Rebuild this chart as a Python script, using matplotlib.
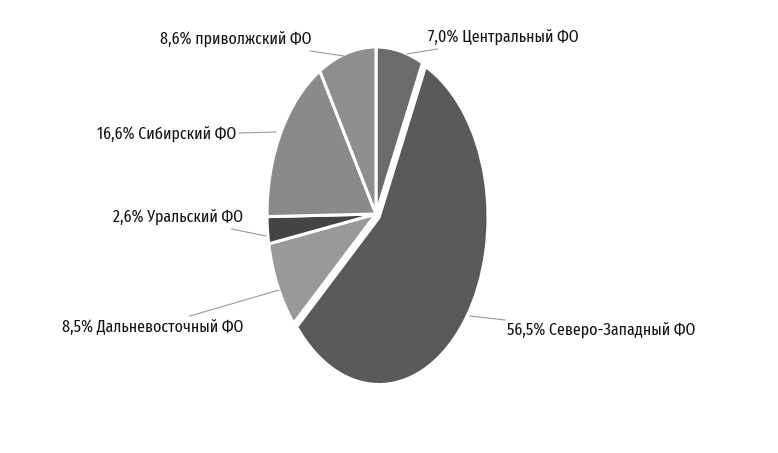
import matplotlib as mpl
mpl.use('Agg')
import matplotlib.pyplot as plt

# shares by federal district, clockwise from 12 o'clock
districts = ['Центральный ФО', 'Северо-Западный ФО', 'Дальневосточный ФО',
             'Уральский ФО', 'Сибирский ФО', 'приволжский ФО']
shares = [7.0, 56.5, 8.5, 2.6, 16.6, 8.6]
share_labels = ['7,0%', '56,5%', '8,5%', '2,6%', '16,6%', '8,6%']

colors = ['#6b6b6b', '#5a5a5a', '#999999', '#444444', '#8a8a8a', '#8e8e8e']
explode = [0, 0.035, 0, 0, 0, 0]

W, H = 778, 453
cx, cy = 376, 214      # pie centre, pixels from top-left
rx, ry = 109, 167      # stretched pie -> ellipse

fig = plt.figure(figsize=(W / 100, H / 100), dpi=100, facecolor='white')
ax = fig.add_axes([(cx - rx) / W, (H - cy - ry) / H, 2 * rx / W, 2 * ry / H])

wedges, _ = ax.pie(shares, colors=colors, explode=explode, startangle=90,
                   counterclock=False, radius=1,
                   wedgeprops=dict(edgecolor='white', linewidth=2.2))
for w in wedges:
    w.set_clip_on(False)
ax.set_aspect('auto')
ax.set_xlim(-1, 1)
ax.set_ylim(-1, 1)
ax.axis('off')


def to_data(px, py):
    return (px - cx) / rx, (cy - py) / ry


# (line start on slice, text anchor point, ha) in pixels
label_pos = [
    ((407, 54), (428, 38), 'left'),
    ((470, 316), (507, 331), 'left'),
    ((279, 290), (243, 327), 'right'),
    ((266, 236), (243, 218), 'right'),
    ((276, 132), (236, 135), 'right'),
    ((344, 56), (312, 40), 'right'),
]

for (p0, p1, ha), pct, name in zip(label_pos, share_labels, districts):
    ax.annotate(pct + ' ' + name, xy=to_data(*p0), xytext=to_data(*p1),
                ha=ha, va='center', fontsize=12.5,
                family=['Fira Sans Extra Condensed', 'DejaVu Sans'],
                color='#151515', annotation_clip=False,
                arrowprops=dict(arrowstyle='-', color='#999999', lw=0.8,
                                shrinkA=0, shrinkB=0))

fig.savefig('out.png', dpi=100, facecolor='white')
